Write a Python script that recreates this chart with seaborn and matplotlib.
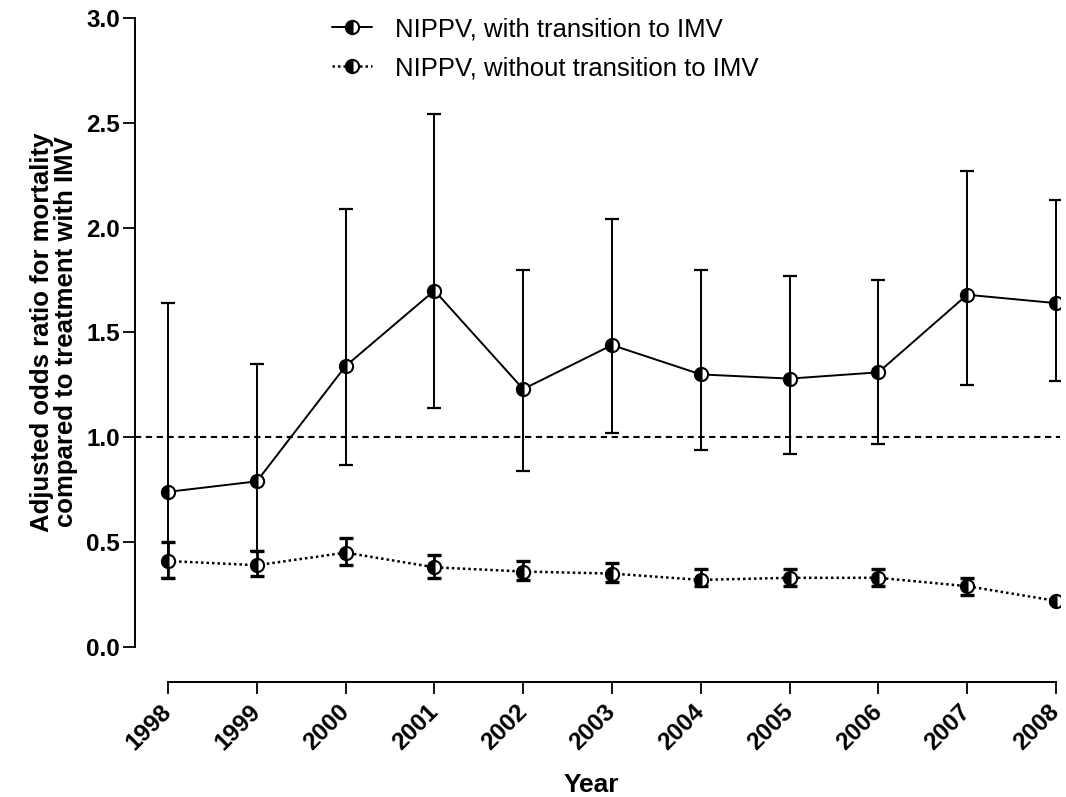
import numpy as np
import pandas as pd
import matplotlib
matplotlib.use("Agg")
import matplotlib.pyplot as plt
import seaborn as sns

# ---- data ----
years = [1998, 1999, 2000, 2001, 2002, 2003, 2004, 2005, 2006, 2007, 2008]
with_or = [0.74, 0.79, 1.34, 1.70, 1.23, 1.44, 1.30, 1.28, 1.31, 1.68, 1.64]
with_lo = [0.33, 0.46, 0.87, 1.14, 0.84, 1.02, 0.94, 0.92, 0.97, 1.25, 1.27]
with_hi = [1.64, 1.35, 2.09, 2.54, 1.80, 2.04, 1.80, 1.77, 1.75, 2.27, 2.13]
without_or = [0.41, 0.39, 0.45, 0.38, 0.36, 0.35, 0.32, 0.33, 0.33, 0.29, 0.22]
without_lo = [0.33, 0.34, 0.39, 0.33, 0.32, 0.31, 0.29, 0.29, 0.29, 0.25, 0.21]
without_hi = [0.50, 0.46, 0.52, 0.44, 0.41, 0.40, 0.37, 0.37, 0.37, 0.33, 0.23]
label_with = "NIPPV, with transition to IMV"
label_without = "NIPPV, without transition to IMV"
y_ticks = [0.0, 0.5, 1.0, 1.5, 2.0, 2.5, 3.0]
ref_value = 1.0

df_with = pd.DataFrame({"Year": years, "OR": with_or})
df_without = pd.DataFrame({"Year": years, "OR": without_or})

sns.set_style("ticks")
plt.rcParams["font.family"] = ["Liberation Sans", "DejaVu Sans"]
plt.rcParams["text.color"] = "black"
plt.rcParams["axes.labelcolor"] = "black"
plt.rcParams["xtick.color"] = "black"
plt.rcParams["ytick.color"] = "black"

fig = plt.figure(figsize=(10.66, 7.97), dpi=100)
ax = fig.add_axes([135 / 1066, 115 / 797, 925 / 1066, 668 / 797])

# reference line
ax.axhline(ref_value, color="black", lw=1.5, linestyle=(0, (3, 2.2)), zorder=1)

# error bars
w_or = np.array(with_or)
ax.errorbar(years, w_or, yerr=[w_or - np.array(with_lo), np.array(with_hi) - w_or],
            fmt="none", ecolor="black", elinewidth=1.4, capsize=5, capthick=1.6, zorder=1.5)
wo_or = np.array(without_or)
ax.errorbar(years, wo_or, yerr=[wo_or - np.array(without_lo), np.array(without_hi) - wo_or],
            fmt="none", ecolor="black", elinewidth=2.0, capsize=5, capthick=2.4, zorder=1.5)

marker_kws = dict(marker="o", ms=9.5, fillstyle="left", markerfacecoloralt="white",
                  mec="black", mew=1.5, color="black")
sns.lineplot(data=df_with, x="Year", y="OR", ax=ax, linestyle="-", lw=1.4,
             label=label_with, errorbar=None, legend=False, zorder=3, **marker_kws)
sns.lineplot(data=df_without, x="Year", y="OR", ax=ax, linestyle=(0, (1, 1.2)), lw=1.8,
             label=label_without, errorbar=None, legend=False, zorder=3, **marker_kws)

ax.set_xlim(1997.628, 2008.045)
ax.set_ylim(-0.167, 3.019)
ax.set_yticks(y_ticks)
ax.set_yticklabels([f"{v:.1f}" for v in y_ticks], fontsize=17.5, fontweight="bold")
ax.set_xticks(years)
ax.set_xticklabels([str(y) for y in years], fontsize=17.5, fontweight="bold",
                   rotation=45, ha="right", va="center", rotation_mode="anchor")
ax.tick_params(axis="y", length=8.6, width=1.3, pad=2.2)
ax.tick_params(axis="x", length=8.6, width=1.3, pad=10.5)

for s in ["top", "right"]:
    ax.spines[s].set_visible(False)
for s in ["left", "bottom"]:
    ax.spines[s].set_linewidth(1.4)
    ax.spines[s].set_color("black")
ax.spines["left"].set_bounds(0, 3)
ax.spines["bottom"].set_bounds(1998, 2008)

ax.set_ylabel("Adjusted odds ratio for mortality\ncompared to treatment with IMV",
              fontsize=18.5, fontweight="bold", linespacing=1.0)
ax.yaxis.set_label_coords(-0.062, 0.524)
ax.set_xlabel("Year", fontsize=19, fontweight="bold", va="top")
ax.xaxis.set_label_coords(0.493, -0.136)

handles, labels = ax.get_legend_handles_labels()
leg = ax.legend(handles, labels, loc="upper left",
                bbox_to_anchor=(332 / 1066, 1 - 17 / 797), bbox_transform=fig.transFigure,
                frameon=False, fontsize=18.5, borderpad=0, borderaxespad=0,
                handlelength=1.55, handletextpad=0.9, labelspacing=0.6)

fig.savefig("out.png", dpi=100, facecolor="white")
